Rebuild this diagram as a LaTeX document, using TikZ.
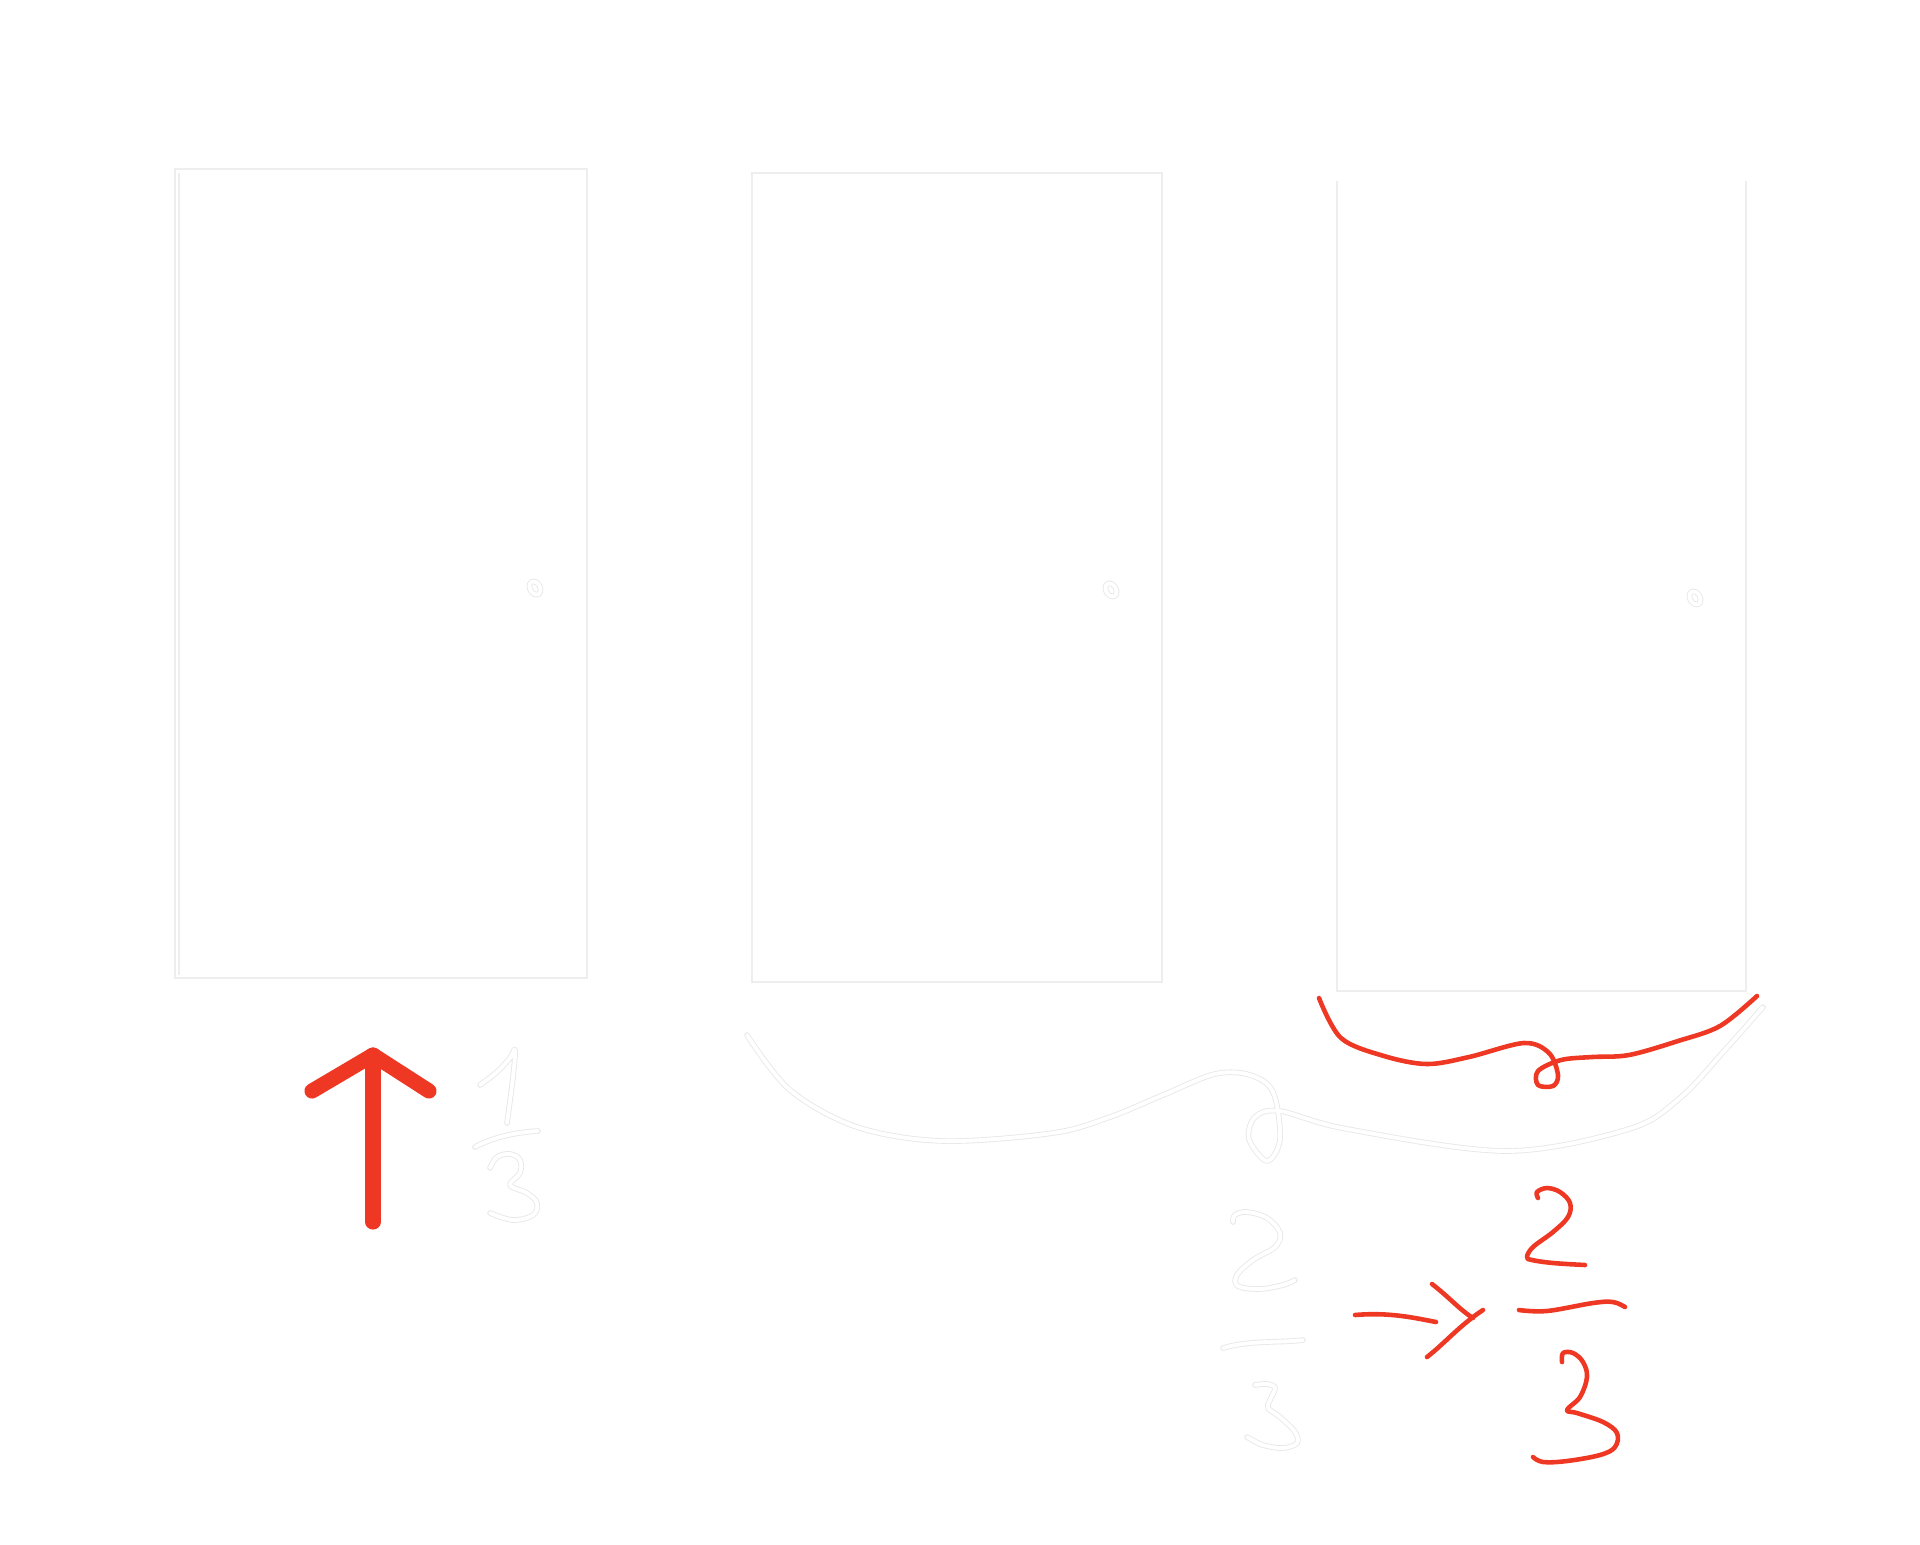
\documentclass[tikz,border=0pt]{standalone}
\usepackage{tikz}
\definecolor{inkred}{RGB}{238,56,36}
\definecolor{chalk}{RGB}{232,232,232}
\definecolor{doorgray}{RGB}{238,238,238}

\begin{document}
\begin{tikzpicture}[x=0.01cm, y=-0.01cm,
    doorline/.style={draw=doorgray, line width=0.7pt},
    faint/.style={draw=chalk, line width=0.25pt, double=white, double distance=1.1pt, line cap=round, line join=round},
    redink/.style={draw=inkred, line width=1.3pt, line cap=round, line join=round},
    bigarrow/.style={draw=inkred, line width=4.3pt, line cap=round, line join=round}]
            \useasboundingbox (0,0) rectangle (1920,1544);
            % doors
            \draw[doorline] (175,978) -- (175,169) -- (587,169) -- (587,978) -- cycle;
            \draw[doorline] (179,975) -- (179,173);
            \draw[faint] (535,588) ellipse [x radius=5, y radius=7, rotate=30];
            \draw[doorline] (752,982) -- (752,173) -- (1162,173) -- (1162,982) -- cycle;
            \draw[faint] (1111,590) ellipse [x radius=5, y radius=7, rotate=30];
            \draw[doorline] (1337,181) -- (1337,991) -- (1746,991) -- (1746,181);
            \draw[faint] (1695,598) ellipse [x radius=5, y radius=7, rotate=30];
            % red arrow below the first door
            \draw[bigarrow] (373,1222) -- (373,1055);
            \draw[bigarrow] (312,1091) -- (373,1055) -- (429,1091);
            % faint 1/3
            \draw[faint] plot[smooth, tension=0.6] coordinates {(480,1085) (497,1072) (510,1058) (515,1050) (513,1077) (507,1123)};
            \draw[faint] (475,1147) .. controls (495,1136) and (520,1132) .. (538,1131);
            \draw[faint] plot[smooth, tension=0.6] coordinates {(490,1168) (497,1157) (510,1154) (520,1160) (520,1173) (510,1185) (527,1193) (537,1203) (533,1215) (513,1220) (490,1213)};
            % faint loop under doors two and three
            \draw[faint] plot[smooth, tension=0.55] coordinates {(747,1035) (790,1090) (857,1127) (943,1141) (1053,1133) (1110,1117) (1163,1095) (1215,1074) (1250,1075) (1273,1092) (1280,1139) (1267,1161) (1249,1139) (1255,1117) (1280,1111) (1347,1129) (1506,1151) (1629,1129) (1680,1098) (1725,1050) (1763,1007)};
            % red loop under the third door
            \draw[redink] plot[smooth, tension=0.55] coordinates {(1319,998) (1341,1038) (1384,1056) (1427,1064) (1469,1057) (1524,1043) (1549,1053) (1558,1075) (1553,1086) (1538,1085) (1538,1071) (1561,1060) (1592,1057) (1629,1055) (1678,1041) (1720,1026) (1757,996)};
            % faint 2/3
            \draw[faint] plot[smooth, tension=0.6] coordinates {(1233,1222) (1235,1215) (1247,1212) (1267,1218) (1280,1233) (1275,1247) (1253,1260) (1237,1275) (1238,1286) (1260,1289) (1283,1285) (1295,1280)};
            \draw[faint] (1223,1348) .. controls (1250,1340) and (1280,1343) .. (1303,1340);
            \draw[faint] plot[smooth, tension=0.6] coordinates {(1255,1385) (1267,1384) (1275,1388) (1270,1400) (1268,1408) (1280,1417) (1295,1432) (1297,1443) (1283,1448) (1263,1445) (1247,1437)};
            % red arrow
            \draw[redink] (1355,1315) .. controls (1390,1312) and (1415,1318) .. (1436,1322);
            \draw[redink] (1432,1284) .. controls (1450,1298) and (1460,1310) .. (1473,1318);
            \draw[redink] (1483,1310) .. controls (1460,1325) and (1445,1343) .. (1427,1357);
            % red 2/3
            \draw[redink] plot[smooth, tension=0.6] coordinates {(1538,1198) (1537,1192) (1547,1188) (1560,1192) (1570,1203) (1568,1217) (1553,1232) (1533,1247) (1527,1257) (1532,1260) (1553,1263) (1585,1265)};
            \draw[redink] plot[smooth, tension=0.6] coordinates {(1519,1310) (1547,1311) (1593,1303) (1613,1302) (1625,1307)};
            \draw[redink] plot[smooth, tension=0.6] coordinates {(1562,1362) (1563,1353) (1573,1353) (1583,1362) (1587,1377) (1580,1397) (1567,1410) (1577,1413) (1603,1422) (1617,1433) (1615,1447) (1600,1455) (1567,1461) (1543,1462) (1533,1457)};
        \end{tikzpicture}
\end{document}
